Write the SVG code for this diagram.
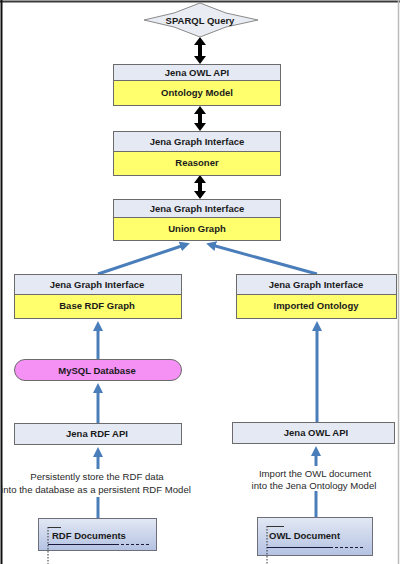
<svg xmlns="http://www.w3.org/2000/svg" width="400" height="564" viewBox="0 0 400 564">
<defs>
<style>
.hd{fill:#e4e9f4;stroke:#6b6b6b;stroke-width:1}
.yl{fill:#ffff6e;stroke:#6b6b6b;stroke-width:1}
.t{font-family:"Liberation Sans",Arial,sans-serif;font-size:9.5px;font-weight:bold;fill:#1a1a1a;text-anchor:middle}
.n{font-family:"Liberation Sans",Arial,sans-serif;font-size:9.6px;fill:#2a2a2a;text-anchor:middle}
.blue{stroke:#4a7ebb;stroke-width:3;fill:none}
.dbl{fill:#000}
.doc{fill:url(#g);stroke:#6f6f7a;stroke-width:1}
</style>
<linearGradient id="g" x1="0" y1="0" x2="0" y2="1">
<stop offset="0" stop-color="#e2e8f4"/>
<stop offset="1" stop-color="#b4c2e2"/>
</linearGradient>
<marker id="ba" markerWidth="10" markerHeight="10" refX="6" refY="5" orient="auto" markerUnits="userSpaceOnUse" viewBox="0 0 10 10">
<path d="M0,0 L10,5 L0,10 z" fill="#4a7ebb"/>
</marker>
</defs>
<rect width="400" height="564" fill="#fff"/>
<line x1="0" y1="1.5" x2="400" y2="1.5" stroke="#3a3a3a" stroke-width="2"/>
<line x1="1.5" y1="0" x2="1.5" y2="564" stroke="#111" stroke-width="2"/>
<line x1="398.5" y1="0" x2="398.5" y2="564" stroke="#bbb" stroke-width="1.5"/>

<g id="connectors">
<polygon class="dbl" points="200,37 206,45 202,45 202,56 206,56 200,64 194,56 198,56 198,45 194,45"/>
<polygon class="dbl" points="200,106 206,114 202,114 202,123 206,123 200,131 194,123 198,123 198,114 194,114"/>
<polygon class="dbl" points="200,175 206,183 202,183 202,191 206,191 200,199 194,191 198,191 198,183 194,183"/>
<line class="blue" x1="98" y1="274" x2="186" y2="244.5" marker-end="url(#ba)"/>
<line class="blue" x1="317" y1="274" x2="210" y2="244.5" marker-end="url(#ba)"/>
<line class="blue" x1="98" y1="359" x2="98" y2="325" marker-end="url(#ba)"/>
<line class="blue" x1="98" y1="423" x2="98" y2="387" marker-end="url(#ba)"/>
<line class="blue" x1="317" y1="422" x2="317" y2="325" marker-end="url(#ba)"/>
<line class="blue" x1="98" y1="469" x2="98" y2="451" marker-end="url(#ba)"/>
<line class="blue" x1="98" y1="518" x2="98" y2="497"/>
<line class="blue" x1="316" y1="466" x2="316" y2="450" marker-end="url(#ba)"/>
<line class="blue" x1="316" y1="517" x2="316" y2="491"/>
</g>

<g id="sparql">
<polygon points="200,3 226,13 258,20 226,27 200,37 174,27 144,20 174,13" fill="#e9ecf2" stroke="#8a8a8a" stroke-width="1"/>
<text class="t" x="200" y="24">SPARQL Query</text>
</g>

<g id="ontology-model">
<rect class="hd" x="113.5" y="64.5" width="167" height="16"/>
<rect class="yl" x="113.5" y="80.5" width="167" height="25"/>
<text class="t" x="197" y="76">Jena OWL API</text>
<text class="t" x="197" y="96">Ontology Model</text>
</g>

<g id="reasoner">
<rect class="hd" x="113.5" y="131.5" width="167" height="20"/>
<rect class="yl" x="113.5" y="151.5" width="167" height="24"/>
<text class="t" x="197" y="144.5">Jena Graph Interface</text>
<text class="t" x="197" y="166">Reasoner</text>
</g>

<g id="union-graph">
<rect class="hd" x="113.5" y="199.5" width="167" height="18"/>
<rect class="yl" x="113.5" y="217.5" width="167" height="23"/>
<text class="t" x="197" y="211.5">Jena Graph Interface</text>
<text class="t" x="197" y="232">Union Graph</text>
</g>

<g id="base-rdf-graph">
<rect class="hd" x="14.5" y="274.5" width="167" height="20"/>
<rect class="yl" x="14.5" y="294.5" width="167" height="24"/>
<text class="t" x="97" y="287.5">Jena Graph Interface</text>
<text class="t" x="97" y="309">Base RDF Graph</text>
</g>

<g id="imported-ontology">
<rect class="hd" x="236.5" y="274.5" width="160" height="20"/>
<rect class="yl" x="236.5" y="294.5" width="160" height="24"/>
<text class="t" x="316" y="287.5">Jena Graph Interface</text>
<text class="t" x="316" y="309">Imported Ontology</text>
</g>

<g id="mysql">
<rect x="14.5" y="359.5" width="167" height="21" rx="10.5" ry="10.5" fill="#f590f5" stroke="#6b6b6b" stroke-width="1"/>
<text class="t" x="97" y="373.5">MySQL Database</text>
</g>

<g id="jena-rdf-api">
<rect class="hd" x="14.5" y="423.5" width="167" height="21"/>
<text class="t" x="97" y="437">Jena RDF API</text>
</g>

<g id="jena-owl-api">
<rect class="hd" x="232.5" y="422.5" width="162" height="21"/>
<text class="t" x="316" y="436">Jena OWL API</text>
</g>

<g id="label-rdf">
<text class="n" x="97" y="480">Persistently store the RDF data</text>
<text class="n" x="96" y="493">into the database as a persistent RDF Model</text>
</g>

<g id="label-owl">
<text class="n" x="315" y="477">Import the OWL document</text>
<text class="n" x="314" y="489">into the Jena Ontology Model</text>
</g>

<g id="rdf-documents">
<rect class="doc" x="38.5" y="518.5" width="118" height="32"/>
<line x1="48" y1="527.5" x2="61" y2="527.5" stroke="#333" stroke-width="1"/>
<line x1="48" y1="527" x2="48" y2="564" stroke="#333" stroke-width="1" stroke-dasharray="1.5,1.5"/>
<line x1="48" y1="544.5" x2="116" y2="544.5" stroke="#1a1a40" stroke-width="1"/>
<line x1="116" y1="544.5" x2="149" y2="544.5" stroke="#1a1a40" stroke-width="1" stroke-dasharray="3,2"/>
<text class="t" x="52" y="539" style="text-anchor:start">RDF Documents</text>
</g>

<g id="owl-document">
<rect class="doc" x="257.5" y="517.5" width="115" height="38"/>
<line x1="267" y1="526.5" x2="284" y2="526.5" stroke="#333" stroke-width="1"/>
<line x1="267" y1="526" x2="267" y2="564" stroke="#333" stroke-width="1" stroke-dasharray="1.5,1.5"/>
<line x1="267" y1="547.5" x2="330" y2="547.5" stroke="#1a1a40" stroke-width="1"/>
<line x1="330" y1="547.5" x2="364" y2="547.5" stroke="#1a1a40" stroke-width="1" stroke-dasharray="3,2"/>
<text class="t" x="269" y="539" style="text-anchor:start">OWL Document</text>
</g>
</svg>
